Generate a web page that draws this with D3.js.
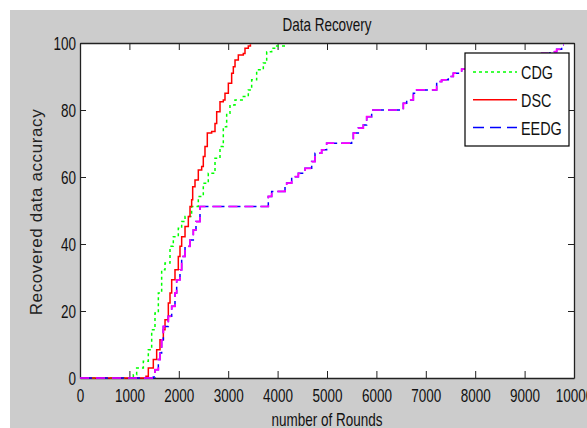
<!DOCTYPE html>
<html><head><meta charset="utf-8">
<script src="https://cdn.jsdelivr.net/npm/d3@7"></script>
<style>body{margin:0;background:#fff;overflow:hidden} svg{display:block}</style>
</head><body><svg id="c" width="587" height="428"></svg>
<script>
const chartTitle = "Data Recovery";
const xLabel = "number of Rounds";
const yLabel = "Recovered data accuracy";
const xTicks = [0,1000,2000,3000,4000,5000,6000,7000,8000,9000,10000];
const yTicks = [0,20,40,60,80,100];
const seriesNames = ["CDG","DSC","EEDG"];

const cdgRounds = [0,1080,1147,1282,1383,1451,1518,1586,1653,1721,1822,1889,1990,2058,2126,2260,2395,2496,2597,2733,2834,2901,2969,3036,3138,3306,3407,3475,3576,3711,3779,3880,3981,4190];
const cdgAcc    = [0,1,3,5,8.4,14.4,19.4,25.4,32.3,34.3,39.3,42.2,44.7,46.7,48.2,51.2,54.2,58.1,61.1,65.6,69.1,75,79,81.5,83,84,86,89,92,94,97.4,98.4,99.1,99.1];

const dscRounds = [0,1336,1383,1484,1552,1619,1687,1721,1788,1822,1856,1923,1990,2024,2058,2126,2193,2227,2260,2281,2328,2395,2463,2496,2530,2577,2665,2733,2767,2834,2901,2935,3003,3070,3104,3138,3205,3306,3340,3407,3450];
const dscAcc    = [0,0.5,3,5.5,8.4,11.4,14.4,17.4,22.4,25.4,29.3,32.3,36.3,39.3,42.2,45.2,48.2,51.2,53.2,57.1,59.1,62.1,63.1,66.1,69.1,73.1,73.6,76,79.5,82.5,83,85,88,91,92.9,94.9,96.4,96.9,98.4,99.1,99.6];

const eedgRounds = [0,1484,1518,1586,1619,1653,1687,1788,1856,1923,1957,2024,2058,2126,2227,2294,2348,2429,3711,3812,3880,4150,4184,4285,4420,4555,4690,4757,4892,4993,5499,5533,5634,5735,5803,5904,6545,6613,6748,6815,7220,7321,7456,7557,7726,8000,8500,9000,9346,9514,9649,9750,9790];
const eedgAcc    = [0,0.3,2.5,5.5,7.5,11.4,15.4,18.4,21.4,25.4,29.3,32.3,36.3,39.3,41.2,44.2,46.7,51.2,51.2,54.2,55.7,57.1,58.2,60.1,61.1,62.6,64.6,67.1,68.1,70.1,71,73.1,74.6,75.5,78,80,82,83,85,86,88.5,89,90,91,92.2,93,94.5,96,96.9,97.4,98.1,99.4,99.4];

const font = '"Liberation Sans", Arial, Helvetica, sans-serif';
const sx = 0.75;

const svg = d3.select("#c");
svg.append("rect").attr("x",10).attr("y",10).attr("width",600).attr("height",430).attr("fill","#cccccc");

const x = d3.scaleLinear().domain([0,10000]).range([80,574]);
const y = d3.scaleLinear().domain([0,100]).range([378,43]);

svg.append("rect").attr("x",80).attr("y",43).attr("width",494).attr("height",335).attr("fill","#fff");

// axes
const gB = svg.append("g").attr("transform","translate(0,378)")
  .call(d3.axisBottom(x).tickValues(xTicks).tickSizeInner(-7).tickSizeOuter(0).tickFormat(d3.format("d")));
const gT = svg.append("g").attr("transform","translate(0,43)")
  .call(d3.axisTop(x).tickValues(xTicks).tickSizeInner(-7).tickSizeOuter(0).tickFormat(""));
const gL = svg.append("g").attr("transform","translate(80,0)")
  .call(d3.axisLeft(y).tickValues(yTicks).tickSizeInner(-6).tickSizeOuter(0));
const gR = svg.append("g").attr("transform","translate(574,0)")
  .call(d3.axisRight(y).tickValues(yTicks).tickSizeInner(-6).tickSizeOuter(0).tickFormat(""));
[gB,gT,gL,gR].forEach(g=>{
  g.selectAll("path.domain").attr("stroke","#222").attr("stroke-width",1.3);
  g.selectAll(".tick line").attr("stroke","#222");
});
gB.selectAll(".tick text")
  .attr("y",24).attr("dy",null)
  .attr("transform",`scale(${sx},1)`)
  .attr("font-family",font).attr("font-size",18).attr("fill","#111");
gL.selectAll(".tick text")
  .attr("x",-4/sx).attr("dy","0.34em")
  .attr("transform",`scale(${sx},1)`)
  .attr("font-family",font).attr("font-size",18).attr("fill","#111");
[gB,gT,gL,gR].forEach(g=>g.attr("font-family",font));

// lines
const mk = (r,a)=> r.map((v,i)=>[v,a[i]]);
const line = d3.line().x(d=>x(d[0])).y(d=>y(d[1])).curve(d3.curveStepAfter);
const plot = svg.append("g");
plot.append("path").datum(mk(cdgRounds,cdgAcc)).attr("d",line)
  .attr("fill","none").attr("stroke","#00ff00").attr("stroke-width",1.5).attr("stroke-dasharray","3,3");
plot.append("path").datum(mk(dscRounds,dscAcc)).attr("d",line)
  .attr("fill","none").attr("stroke","#ff0000").attr("stroke-width",1.5);
plot.append("path").datum(mk(eedgRounds,eedgAcc)).attr("d",line)
  .attr("fill","none").attr("stroke","#0000ff").attr("stroke-width",1.5).attr("stroke-dasharray","12,4");
plot.append("path").datum(mk(eedgRounds,eedgAcc)).attr("d",line)
  .attr("fill","none").attr("stroke","#ff00ff").attr("stroke-width",1.7).attr("stroke-dasharray","9,7");

// title & labels
svg.append("text").attr("transform",`translate(327,31) scale(${sx},1)`)
  .attr("text-anchor","middle").attr("font-family",font).attr("font-size",18).attr("fill","#111").text(chartTitle);
svg.append("text").attr("transform",`translate(327,426) scale(${sx},1)`)
  .attr("text-anchor","middle").attr("font-family",font).attr("font-size",18).attr("fill","#111").text(xLabel);
svg.append("text").attr("transform","translate(42,212) rotate(-90)")
  .attr("text-anchor","middle").attr("font-family",font).attr("font-size",17)
  .attr("letter-spacing","0.6px").attr("fill","#222").text(yLabel);

// legend
const lg = svg.append("g");
lg.append("rect").attr("x",465).attr("y",53).attr("width",104).attr("height",93)
  .attr("fill","#fff").attr("stroke","#000").attr("stroke-width",1.2);
const legStyles = [
  {c:"#00ff00", dash:"3,3"},
  {c:"#ff0000", dash:null},
  {c:"#0000ff", dash:"11,6"}
];
const ly = d3.scalePoint().domain(seriesNames).range([72,127.5]);
seriesNames.forEach((n,i)=>{
  lg.append("line").attr("x1",473).attr("x2",517).attr("y1",ly(n)).attr("y2",ly(n))
    .attr("stroke",legStyles[i].c).attr("stroke-width",1.5).attr("stroke-dasharray",legStyles[i].dash);
  lg.append("text").attr("transform",`translate(521,${ly(n)+7}) scale(0.8,1)`)
    .attr("font-family",font).attr("font-size",18).attr("fill","#111").text(n);
});
</script>
</body></html>
